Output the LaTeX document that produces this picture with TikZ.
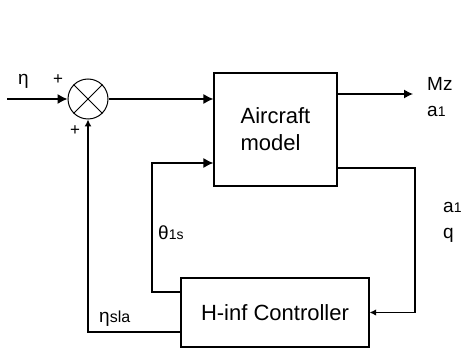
\documentclass[tikz,border=0pt]{standalone}
\usepackage{fontspec}
\setmainfont{Liberation Sans}
\usetikzlibrary{arrows.meta,positioning,calc}

\newcommand{\smdig}[1]{{\fontsize{14}{14}\selectfont #1}}

\begin{document}
\begin{tikzpicture}[
  x=1pt, y=-1pt,
  >={Latex[length=10pt,width=10pt]},
  every node/.style={inner sep=0pt},
  block/.style={draw, line width=1.2pt, align=left, font=\fontsize{22}{27}\selectfont},
  sig/.style={->, line width=1.2pt},
  smalltip/.style={-{Latex[length=6.5pt,width=6.5pt]}},
  lab/.style={font=\fontsize{19}{19}\selectfont},
  sgn/.style={font=\fontsize{17}{17}\selectfont}
]
\useasboundingbox (0,0) rectangle (462,352);

% blocks
\node[draw, circle, line width=1pt, minimum size=40pt] (sum) at (88,99) {};
\draw[line width=1pt] (sum.north west) -- (sum.south east);
\draw[line width=1pt] (sum.north east) -- (sum.south west);
\node[block, minimum width=123pt, minimum height=113pt] (plant) at (275.5,129.5) {Aircraft\\model};
\node[block, align=center, minimum width=188pt, minimum height=69pt] (ctrl) at (275,312.5) {H-inf Controller};

% points on the lines
\coordinate (in)  at (7,99);
\coordinate (out) at (413,94);
\coordinate (fb)  at (415,168);
\coordinate (th)  at (152,292);
\coordinate (th2) at (152,163);
\coordinate (es)  at (88,332);

% connectors
\draw[sig] (in) -- (sum.west);
\draw[sig] (sum.east) -- (sum.east -| plant.west);
\draw[sig, -{Latex[length=9pt,width=9pt]}] (out -| plant.east) -- (out);
\draw[sig, smalltip] (fb -| plant.east) -- (fb) |- (ctrl.east);
\draw[sig] (th -| ctrl.west) -- (th) -- (th2) -- (th2 -| plant.west);
\draw[sig, -{Latex[length=7pt,width=7pt]}] (es -| ctrl.west) -- (es) -- (sum.south);

% labels
\node[lab, anchor=base west] (etain) at (18,85) {η};
\node[sgn] (pl1) at (58,80) {+};
\node[sgn] (pl2) at (75,131) {+};
\node[lab, anchor=base west] (mz)   at (427,91)  {Mz};
\node[lab, anchor=base west] (aout) at (427,117) {a\smdig{1}};
\node[lab, anchor=base west] (afb)  at (443,213) {a\smdig{1}};
\node[lab, anchor=base west] (qfb)  at (443,238) {q};
\node[lab, anchor=base west] (thl)  at (158,240) {θ\smdig{1s}};
\node[lab, anchor=base west] (esl)  at (99,322)  {η{\fontsize{16}{16}\selectfont sla}};
\end{tikzpicture}
\end{document}
